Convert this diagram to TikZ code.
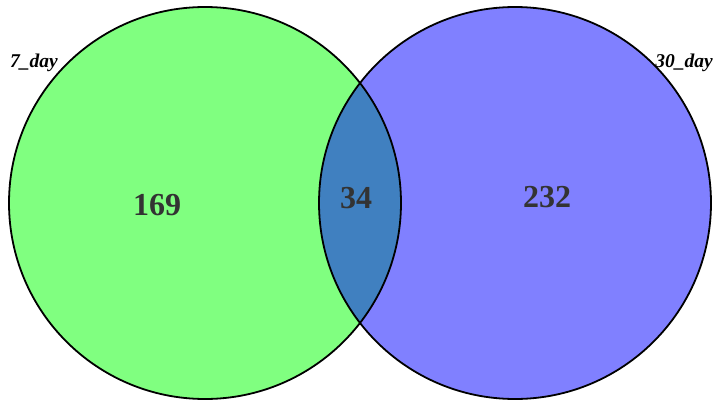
\documentclass[tikz,border=0pt]{standalone}
\usepackage{fontspec}
\setmainfont{Liberation Serif}
\definecolor{setA}{HTML}{80FF80}
\definecolor{setB}{HTML}{8080FF}
\definecolor{setAB}{HTML}{4080C0}
\definecolor{numtext}{HTML}{333333}
\begin{document}
\begin{tikzpicture}[x=1pt,y=-1pt,
  setcircle/.style={circle,minimum size=392pt,inner sep=0pt,line width=1.8pt},
  count/.style={font=\fontsize{32}{36}\selectfont\bfseries,text=numtext},
  setlabel/.style={font=\fontsize{19.5}{22}\selectfont\bfseries\itshape,text=black,inner sep=0pt}]
\useasboundingbox (0,0) rectangle (720,407);
\node[setcircle,fill=setA] (A) at (205,203) {};
\node[setcircle,fill=setB] (B) at (515,203) {};
\begin{scope}
  \clip (205,203) circle (196);
  \fill[setAB] (515,203) circle (196);
\end{scope}
\node[setcircle,draw=black] at (A.center) {};
\node[setcircle,draw=black] at (B.center) {};
\node[count] (nA) at (157,205) {169};
\node[count] (nAB) at (356,198) {34};
\node[count] (nB) at (547,197) {232};
\node[setlabel,anchor=west] (lA) at (10,63) {7\_day};
\node[setlabel,anchor=east] (lB) at (713,63) {30\_day};
\end{tikzpicture}
\end{document}
